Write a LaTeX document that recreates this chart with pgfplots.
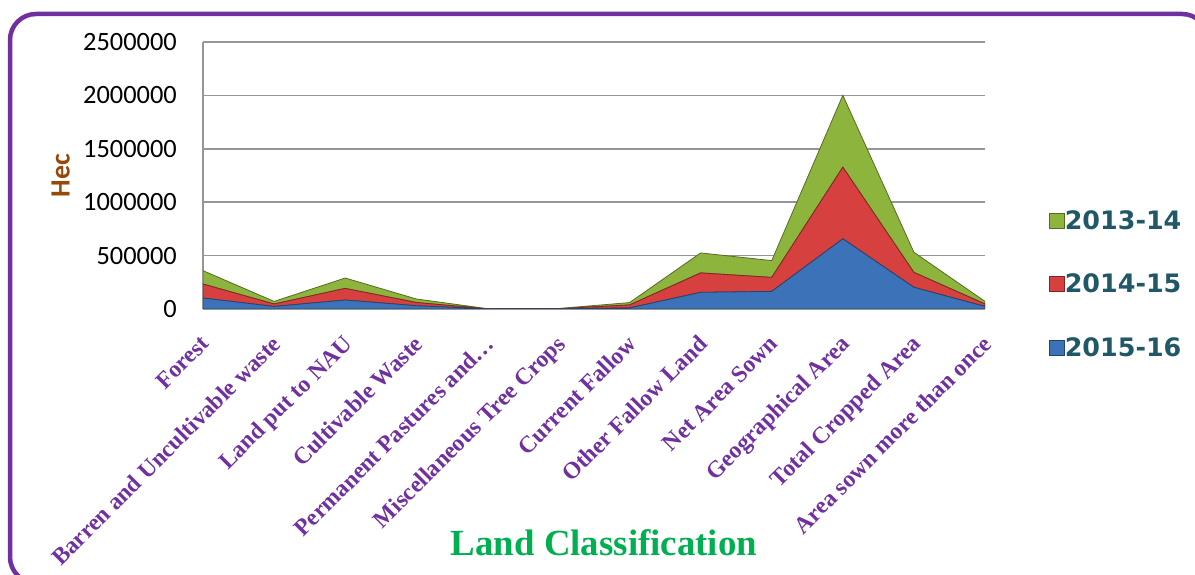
\documentclass[border=0pt]{standalone}
\usepackage{fontspec}
\usepackage{pgfplots}
\pgfplotsset{compat=1.18}
\setmainfont{Liberation Serif}
\newfontfamily\calibri{Carlito}
\newfontfamily\verdana{DejaVu Sans}
\definecolor{bordpurple}{RGB}{112,48,160}
\definecolor{labpurple}{RGB}{112,48,160}
\definecolor{hecbrown}{RGB}{151,72,7}
\definecolor{titlegreen}{RGB}{0,176,80}
\definecolor{legteal}{RGB}{33,88,104}
\definecolor{sblue}{RGB}{60,114,184}
\definecolor{sred}{RGB}{214,64,62}
\definecolor{sgreen}{RGB}{141,180,60}
\definecolor{gridgray}{RGB}{150,150,150}
\begin{document}
\begin{tikzpicture}[x=1bp,y=1bp]
\path[use as bounding box] (0,0) rectangle (1195,575);
\begin{scope}
\clip (0,0) rectangle (1195,575);
\draw[bordpurple, line width=4.5bp, rounded corners=26bp] (10,-8) rectangle (1208,561);
\end{scope}
\begin{axis}[
  at={(203bp,266bp)}, anchor=south west,
  scale only axis, width=782bp, height=267bp,
  xmin=0, xmax=11, ymin=0, ymax=2500000,
  ytick={0,500000,1000000,1500000,2000000,2500000},
  xtick={0,...,11},
  xticklabels={Forest,Barren and Uncultivable waste,Land put to NAU,Cultivable Waste,Permanent Pastures and…,Miscellaneous Tree Crops,Current Fallow,Other Fallow Land,Net Area Sown,Geographical Area,Total Cropped Area,Area sown more than once},
  scaled y ticks=false,
  /pgf/number format/fixed,
  /pgf/number format/1000 sep={},
  /pgf/number format/assume math mode=true,
  major tick length=0pt,
  axis lines*=left,
  axis line style={gridgray, line width=1.5bp},
  ymajorgrids, grid style={gridgray, line width=1.5bp},
  yticklabel style={font=\calibri\fontsize{26.5}{26.5}\selectfont, text=black, anchor=east, inner sep=0pt, xshift=-26bp},
  xticklabel style={font=\bfseries\fontsize{23.7}{23.7}\selectfont, text=labpurple, rotate=45, anchor=north east, inner sep=0pt, xshift=-20bp, yshift=-15bp},
  ylabel={Hec},
  ylabel style={font=\calibri\bfseries\fontsize{28}{28}\selectfont, text=hecbrown, at={(axis description cs:-0.182,0.5)}, anchor=center},
  stack plots=y,
  reverse legend,
  legend image code/.code={\draw[#1, line width=0.6bp] (0bp,-8bp) rectangle (15bp,7bp);},
  legend style={at={(axis description cs:1.0818,0.369)}, anchor=north west, draw=none, fill=none, inner sep=0pt,
    font=\verdana\bfseries\fontsize{25.5}{25.5}\selectfont, text=legteal,
    /tikz/every even column/.append style={column sep=8bp},
    row sep=45bp,
    nodes={inner sep=0pt, text height=18.5bp, text depth=0pt}},
  legend cell align=left,
]
\addplot[fill=sblue, draw=sblue!60!black, line width=0.8bp] coordinates {(0,103000) (1,24000) (2,84000) (3,31000) (4,1000) (5,1500) (6,10000) (7,156000) (8,165000) (9,657000) (10,203000) (11,24000)} \closedcycle;
\addlegendentry{2015-16}
\addplot[fill=sred, draw=sred!60!black, line width=0.8bp] coordinates {(0,131000) (1,23000) (2,109000) (3,30000) (4,1000) (5,1500) (6,28000) (7,182000) (8,131000) (9,671000) (10,140000) (11,23000)} \closedcycle;
\addlegendentry{2014-15}
\addplot[fill=sgreen, draw=sgreen!60!black, line width=0.8bp] coordinates {(0,125000) (1,24000) (2,97000) (3,33000) (4,1000) (5,1500) (6,22000) (7,187000) (8,157000) (9,673000) (10,188000) (11,24000)} \closedcycle;
\addlegendentry{2013-14}
\end{axis}
\node[anchor=base, font=\bfseries\fontsize{37}{37}\selectfont, text=titlegreen] at (604,19) {Land Classification};
\end{tikzpicture}
\end{document}
